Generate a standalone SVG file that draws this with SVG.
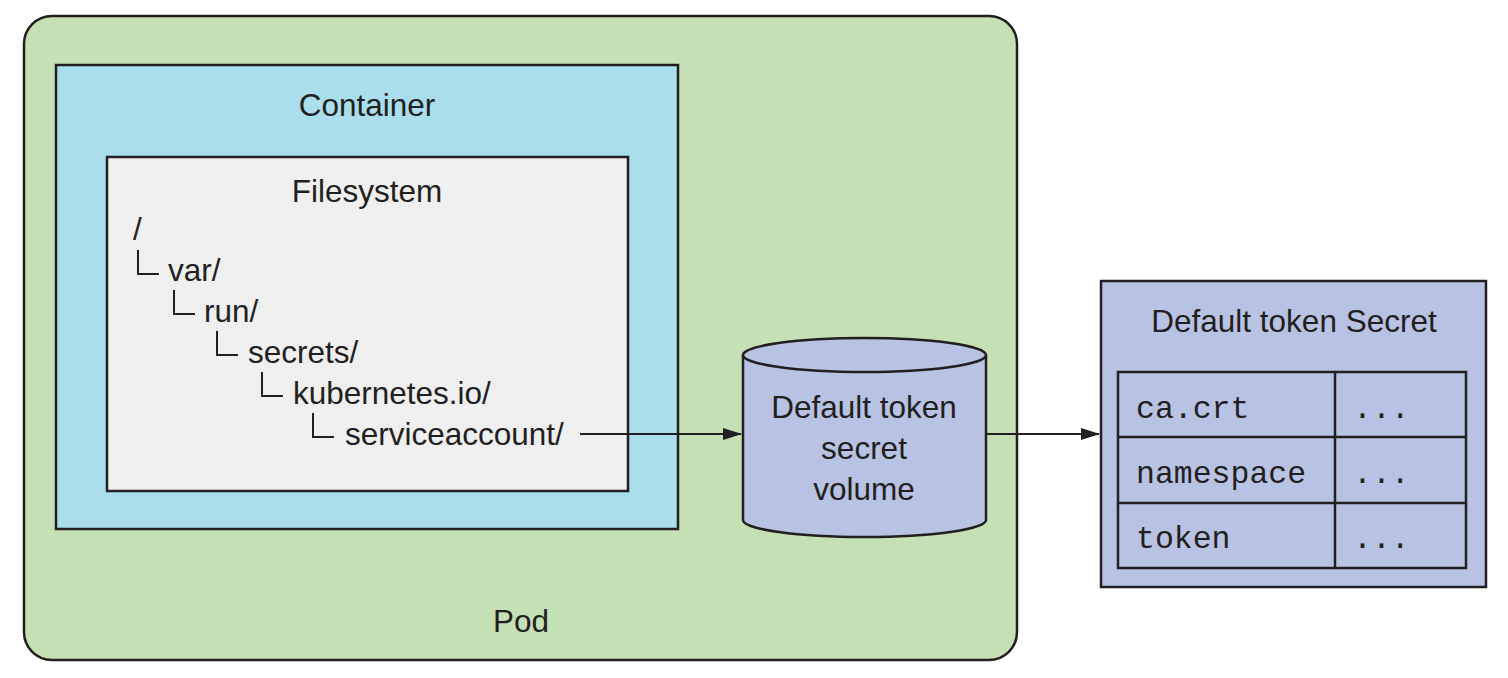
<svg xmlns="http://www.w3.org/2000/svg" width="1508" height="678" viewBox="0 0 1508 678">
<defs>
<style>
.t{font-family:"Liberation Sans",Arial,sans-serif;font-size:31.5px;fill:#231f20}
.m{font-family:"Liberation Mono","Courier New",monospace;font-size:31.5px;fill:#231f20}
.s{stroke:#231f20;stroke-width:2.5}
.br{fill:none;stroke:#231f20;stroke-width:2}
.c{text-anchor:middle}
</style>
<marker id="ah" markerWidth="20" markerHeight="12" refX="18" refY="6" orient="auto" markerUnits="userSpaceOnUse">
<path d="M0,0 L19,6 L0,12 Z" fill="#231f20"/>
</marker>
</defs>
<g id="pod">
<rect x="24" y="16" width="993" height="644" rx="28" fill="#c5e0b4" class="s"/>
<text x="521" y="632" class="t c">Pod</text>
</g>
<g id="container">
<rect x="56" y="65" width="622" height="464" fill="#aadeed" class="s"/>
<text x="367" y="116" class="t c">Container</text>
</g>
<g id="filesystem">
<rect x="107" y="157" width="521" height="334" fill="#efefef" class="s"/>
<text x="367" y="202" class="t c">Filesystem</text>
<text x="133" y="240" class="t">/</text>
<path d="M138,250 V274 H159" class="br"/>
<text x="168" y="281" class="t">var/</text>
<path d="M174,290 V314 H195" class="br"/>
<text x="204" y="322" class="t">run/</text>
<path d="M217,331 V355 H238" class="br"/>
<text x="248" y="363" class="t">secrets/</text>
<path d="M262,372 V396 H283" class="br"/>
<text x="293" y="404" class="t">kubernetes.io/</text>
<path d="M313,413 V437 H334" class="br"/>
<text x="345" y="445" class="t">serviceaccount/</text>
</g>
<g id="volume">
<path d="M743,355 V520 A121.5,17 0 0 0 986,520 V355" fill="#b8c2e3" class="s"/>
<ellipse cx="864.5" cy="355" rx="121.5" ry="17" fill="#b8c2e3" class="s"/>
<text x="864" y="418" class="t c">Default token</text>
<text x="864" y="459" class="t c">secret</text>
<text x="864" y="500" class="t c">volume</text>
</g>
<g id="secret">
<rect x="1101" y="281" width="385" height="306" fill="#b8c2e3" class="s"/>
<text x="1294" y="332" class="t c">Default token Secret</text>
<rect x="1118" y="372" width="348" height="196" fill="none" class="s"/>
<line x1="1335" y1="372" x2="1335" y2="568" class="s"/>
<line x1="1118" y1="437" x2="1466" y2="437" class="s"/>
<line x1="1118" y1="503" x2="1466" y2="503" class="s"/>
<text x="1136" y="418" class="m">ca.crt</text>
<text x="1136" y="483" class="m">namespace</text>
<text x="1136" y="548" class="m">token</text>
<text x="1353" y="418" class="m">...</text>
<text x="1353" y="483" class="m">...</text>
<text x="1353" y="548" class="m">...</text>
</g>
<g id="connectors">
<line x1="580" y1="434" x2="741" y2="434" stroke="#231f20" stroke-width="2" marker-end="url(#ah)"/>
<line x1="986" y1="434" x2="1099" y2="434" stroke="#231f20" stroke-width="2" marker-end="url(#ah)"/>
</g>
</svg>
